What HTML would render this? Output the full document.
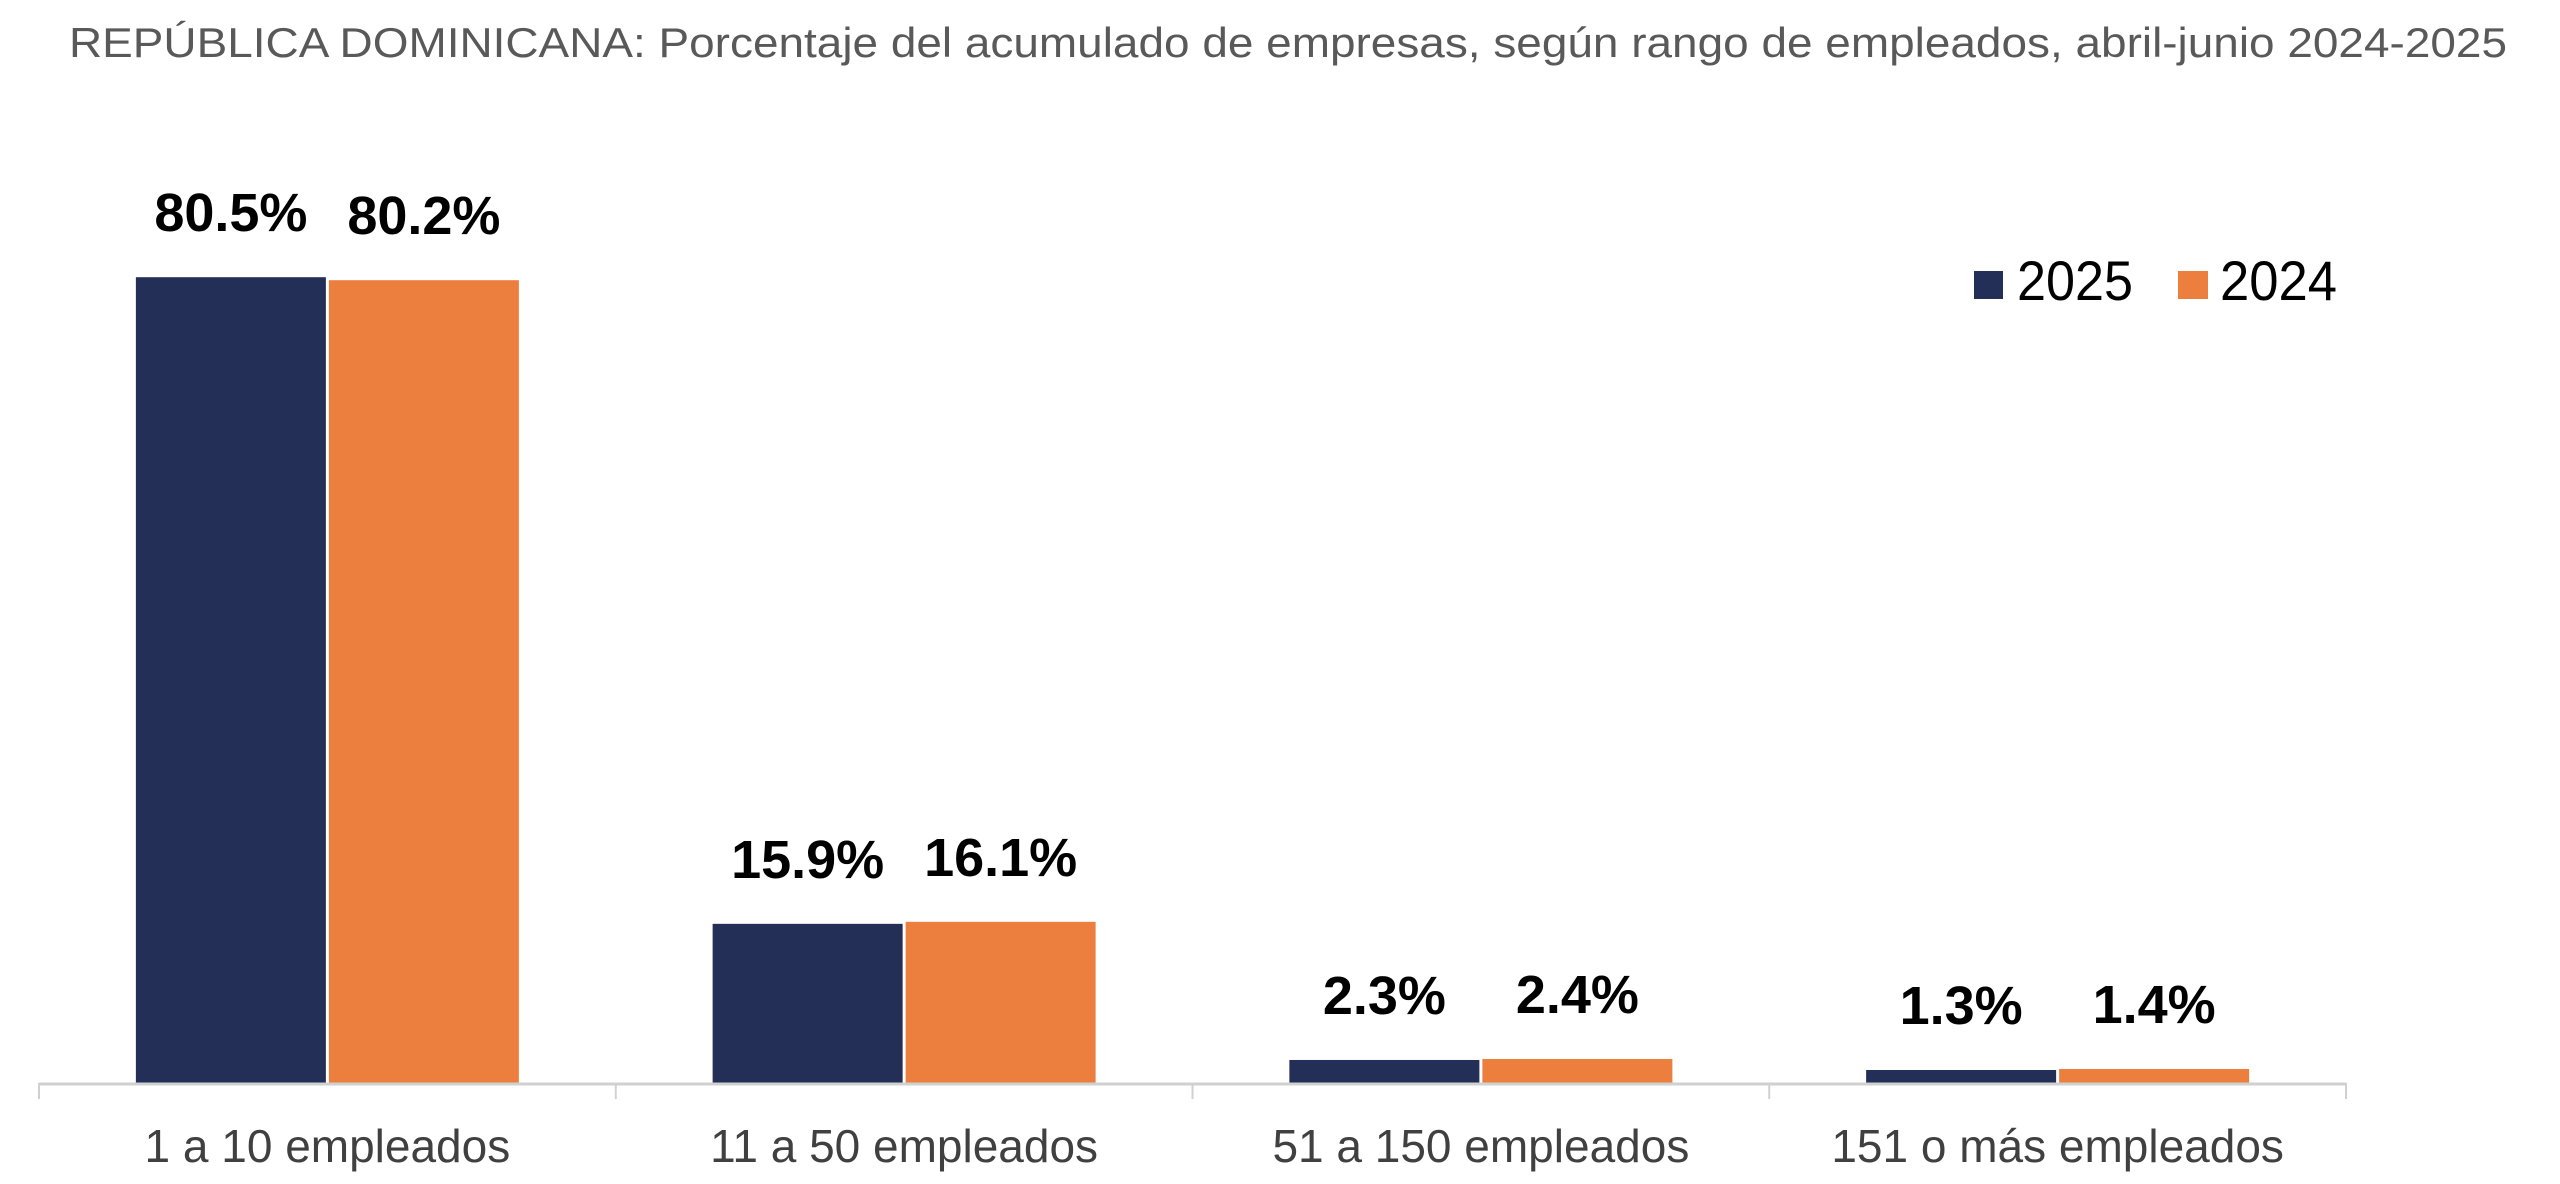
<!DOCTYPE html>
<html><head><meta charset="utf-8"><style>
html,body{margin:0;padding:0;background:#fff;}
svg{display:block;}
</style></head><body>
<svg id="chart" width="2560" height="1184" viewBox="0 0 2560 1184" xmlns="http://www.w3.org/2000/svg">
<text x="69" y="57" font-family="Liberation Sans, sans-serif" font-size="42" fill="#595959" textLength="2438" lengthAdjust="spacingAndGlyphs">REPÚBLICA DOMINICANA: Porcentaje del acumulado de empresas, según rango de empleados, abril-junio 2024-2025</text>
<g>
<rect x="1974" y="271" width="29" height="28" fill="#232f57"/>
<text x="2017" y="300" font-family="Liberation Sans, sans-serif" font-size="56" fill="#000" textLength="116" lengthAdjust="spacingAndGlyphs">2025</text>
<rect x="2178" y="271" width="30" height="28" fill="#ed7f3e"/>
<text x="2220" y="300" font-family="Liberation Sans, sans-serif" font-size="56" fill="#000" textLength="117" lengthAdjust="spacingAndGlyphs">2024</text>
</g>
<g id="plot"></g>
</svg>
<script>
const categories = ["1 a 10 empleados", "11 a 50 empleados", "51 a 150 empleados", "151 o más empleados"];
const values2025 = [80.5, 15.9, 2.3, 1.3];
const values2024 = [80.2, 16.1, 2.4, 1.4];
const seriesNames = ["2025", "2024"];

const NS = "http://www.w3.org/2000/svg";
const plot = document.getElementById("plot");
const axisLeft = 39, axisRight = 2346, baseY = 1083, pxPerUnit = 10.01;
const catW = (axisRight - axisLeft) / categories.length;
const barW = 190, gap = 3;
const colors = ["#232f57", "#ed7f3e"];
function yScale(v){ return baseY - v * pxPerUnit; }
function xCat(i){ return axisLeft + catW * i + catW / 2; }
function mk(tag, attrs){ const e = document.createElementNS(NS, tag); for (const k in attrs) e.setAttribute(k, attrs[k]); return e; }

const series = [values2025, values2024];
series.forEach((vals, s) => {
  vals.forEach((v, i) => {
    const cx = xCat(i);
    const x = s === 0 ? cx - gap/2 - barW : cx + gap/2;
    const r = mk("rect", {x: x, y: yScale(v), width: barW, height: baseY - yScale(v), fill: colors[s]});
    
    
    plot.appendChild(r);
    const t = mk("text", {x: x + barW/2, y: yScale(v) - 46, "text-anchor": "middle", "font-family": "Liberation Sans, sans-serif", "font-size": "54", "font-weight": "bold", fill: "#000"});
    
    
    t.textContent = v.toFixed(1) + "%";
    plot.appendChild(t);
  });
});

const axis = mk("line", {x1: axisLeft, x2: axisRight, y1: baseY + 1, y2: baseY + 1, stroke: "#d0d0d0", "stroke-width": 3});


plot.appendChild(axis);
for (let i = 0; i <= categories.length; i++) {
  const tk = mk("line", {x1: axisLeft + catW*i, x2: axisLeft + catW*i, y1: baseY, y2: baseY + 16, stroke: "#d0d0d0", "stroke-width": 2});
  
  
  plot.appendChild(tk);
}
categories.forEach((c, i) => {
  const t = mk("text", {x: xCat(i), y: 1162, "text-anchor": "middle", "font-family": "Liberation Sans, sans-serif", "font-size": "46", fill: "#404040"});
  
  
  t.textContent = c;
  plot.appendChild(t);
});
</script>
</body></html>
